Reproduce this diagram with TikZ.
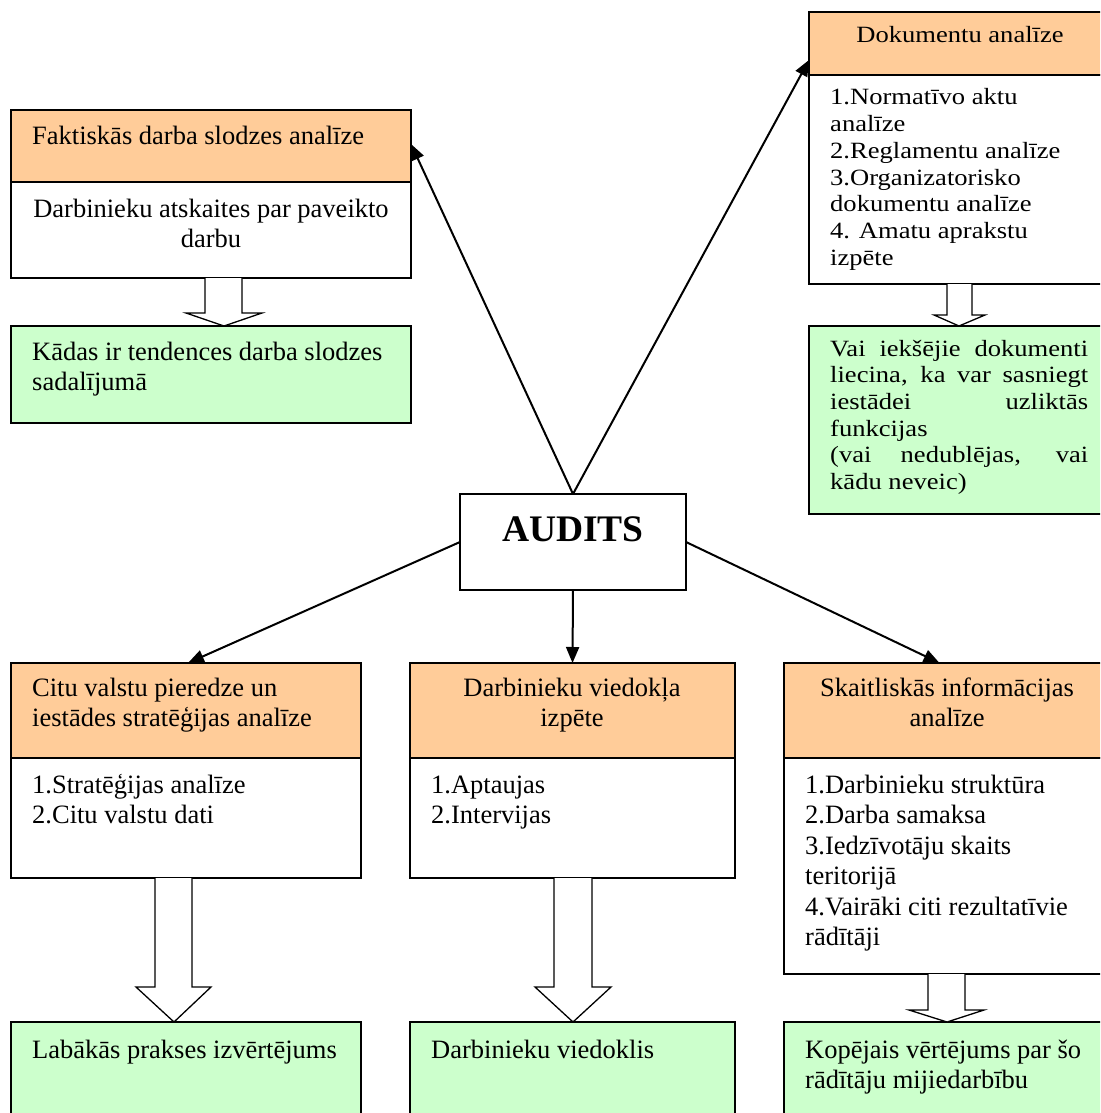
\documentclass[tikz,border=0pt]{standalone}
\usepackage{fontspec}
\setmainfont{Liberation Serif}
\newfontfamily\docfont[FakeStretch=1.14]{Liberation Serif}
\usetikzlibrary{arrows.meta,fit}
\definecolor{headfill}{HTML}{FFCC99}
\definecolor{resfill}{HTML}{CCFFCC}
\newcommand\mainsize{\fontsize{26.5}{30.5}\selectfont}
\newcommand\docsize{\docfont\fontsize{23.3}{26.7}\selectfont}
\newcommand\jline[1]{\makebox[258pt][s]{#1}}

\begin{document}
\begin{tikzpicture}[x=1pt,y=-1pt,
  part/.style={draw=black,line width=1.3pt,inner sep=0pt,outer sep=0pt},
  headbox/.style={part,fill=headfill},
  bodybox/.style={part,fill=white},
  resbox/.style={part,fill=resfill},
  lefttext/.style={inner sep=0pt,anchor=base west,font=\mainsize},
  midtext/.style={inner sep=0pt,anchor=base,font=\mainsize},
  link/.style={line width=2pt,-{Triangle[length=16pt,width=13pt]}},
  hollow/.style={draw=black,line width=1.3pt,fill=white,line join=miter}
]
\useasboundingbox (0,0) rectangle (1100,1113);
\clip (0,0) rectangle (1100,1113);

% ---------- top left: actual workload ----------
\node[headbox,fit={(11,110)(411,182)}] (Fhead) {};
\node[bodybox,fit={(11,182)(411,278)}] (Fbody) {};
\node[resbox,fit={(11,326)(411,423)}] (Fres) {};
\node[lefttext] (Fheadt) at (32,145) {\parbox[t]{370pt}{Faktiskās darba slodzes analīze}};
\node[midtext] (Fbodyt) at (211,217) {\parbox[t]{380pt}{\centering Darbinieku atskaites par paveikto\\darbu}};
\node[lefttext] (Frest) at (32,360) {\parbox[t]{370pt}{Kādas ir tendences darba slodzes\\sadalījumā}};
\draw[hollow] (205,278) -- (205,313) -- (186,313) -- (224,326) -- (262,313) -- (242,313) -- (242,278);

% ---------- top right: documents ----------
\node[headbox,fit={(809,12)(1115,75)}] (Dhead) {};
\node[bodybox,fit={(809,75)(1115,284)}] (Dbody) {};
\node[resbox,fit={(809,326)(1115,514)}] (Dres) {};
\node[inner sep=0pt,anchor=base,font=\docsize] (Dheadt) at (960,43) {Dokumentu analīze};
\node[inner sep=0pt,anchor=base west,font=\docsize] (Dbodyt) at (830,105) {\parbox[t]{280pt}{1.Normatīvo aktu\\analīze\\2.Reglamentu analīze\\3.Organizatorisko\\dokumentu analīze\\4. Amatu aprakstu\\izpēte}};
\node[inner sep=0pt,anchor=base west,font=\docsize] (Drest) at (830,356) {\parbox[t]{258pt}{\jline{Vai iekšējie dokumenti}\\\jline{liecina, ka var sasniegt}\\\jline{iestādei uzliktās}\\funkcijas\\\jline{(vai nedublējas, vai}\\kādu neveic)}};
\draw[hollow] (947,284) -- (947,315) -- (934,315) -- (959,326) -- (985,315) -- (972,315) -- (972,284);

% ---------- centre ----------
\node[part,fill=white,fit={(460,494)(686,590)}] (audit) {};
\node[inner sep=0pt,anchor=base,font=\fontsize{37.5}{42}\selectfont\bfseries] (auditt) at (573,541) {AUDITS};

% ---------- bottom left: other countries ----------
\node[headbox,fit={(11,663)(361,758)}] (Chead) {};
\node[bodybox,fit={(11,758)(361,878)}] (Cbody) {};
\node[resbox,fit={(11,1022)(361,1130)}] (Cres) {};
\node[lefttext] (Cheadt) at (32,696) {\parbox[t]{330pt}{Citu valstu pieredze un\\iestādes stratēģijas analīze}};
\node[lefttext] (Cbodyt) at (32,793) {\parbox[t]{330pt}{1.Stratēģijas analīze\\2.Citu valstu dati}};
\node[lefttext] (Crest) at (32,1058) {Labākās prakses izvērtējums};
\draw[hollow] (155,878) -- (155,987) -- (136,987) -- (174,1022) -- (211,987) -- (192,987) -- (192,878);

% ---------- bottom middle: staff opinion ----------
\node[headbox,fit={(410,663)(735,758)}] (Vhead) {};
\node[bodybox,fit={(410,758)(735,878)}] (Vbody) {};
\node[resbox,fit={(410,1022)(735,1130)}] (Vres) {};
\node[midtext] (Vheadt) at (572,696) {\parbox[t]{320pt}{\centering Darbinieku viedokļa\\izpēte}};
\node[lefttext] (Vbodyt) at (431,793) {\parbox[t]{300pt}{1.Aptaujas\\2.Intervijas}};
\node[lefttext] (Vrest) at (431,1058) {Darbinieku viedoklis};
\draw[hollow] (554,878) -- (554,987) -- (535,987) -- (573,1022) -- (611,987) -- (592,987) -- (592,878);

% ---------- bottom right: numerical data ----------
\node[headbox,fit={(784,663)(1115,758)}] (Shead) {};
\node[bodybox,fit={(784,758)(1115,974)}] (Sbody) {};
\node[resbox,fit={(784,1022)(1115,1130)}] (Sres) {};
\node[midtext] (Sheadt) at (947,696) {\parbox[t]{320pt}{\centering Skaitliskās informācijas\\analīze}};
\node[lefttext] (Sbodyt) at (805,793) {\parbox[t]{300pt}{1.Darbinieku struktūra\\2.Darba samaksa\\3.Iedzīvotāju skaits\\teritorijā\\4.Vairāki citi rezultatīvie\\rādītāji}};
\node[lefttext] (Srest) at (805,1058) {\parbox[t]{300pt}{Kopējais vērtējums par šo\\rādītāju mijiedarbību}};
\draw[hollow] (928,974) -- (928,1010) -- (909,1010) -- (947,1022) -- (984,1010) -- (965,1010) -- (965,974);

% ---------- connectors from the audit ----------
\draw[link] (audit.north) -- ([yshift=2pt]Fhead.east);
\draw[link] (audit.north) -- ([yshift=-16.5pt]Dhead.west);
\draw[link] (audit.west) -- ([xshift=2pt]Chead.north);
\draw[link] (audit.east) -- ([xshift=-10pt]Shead.north);
\draw[link] (audit.south) -- (Vhead.north);
\end{tikzpicture}
\end{document}
